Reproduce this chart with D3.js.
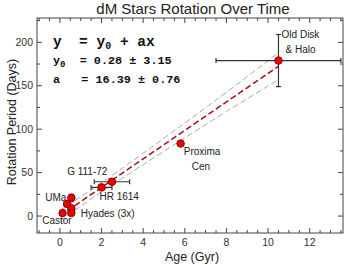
<!DOCTYPE html>
<html>
<head>
<meta charset="utf-8">
<script src="https://cdn.jsdelivr.net/npm/d3@7"></script>
<style>
  html, body { margin: 0; padding: 0; background: #fff; }
  svg { display: block; font-family: "Liberation Sans", Arial, sans-serif; }
</style>
</head>
<body>
<svg id="chart" width="349" height="265"></svg>
<script>
// dM stars: rotation period vs age, with linear fit and confidence band

const ages    = [10.5, 5.8, 2.5, 2.0, 0.55, 0.35, 0.55, 0.55, 0.13];
const periods = [179, 83.5, 39.5, 33, 21, 14, 9, 3.5, 3.5];
const ageErr  = [3, 0, 0.85, 0.5, 0, 0.15, 0, 0, 0];
const perErr  = [30, 0, 0, 0, 4, 0, 0, 0, 0];

const fitX = [0, 10.5];
const fitY = [0.28, 172.4];

// gray dashed band
const bandX     = [0, 2, 4, 6, 8, 10.5];
const bandUpper = [6.3, 38, 72.3, 107, 142.4, 188];
const bandLower = [-5.7, 28, 59.3, 90, 120.4, 157];

const labels = [
  { text: ['Old Disk', '& Halo'], x: 10.65, y: 205, dx: [0, 4] },
  { text: ['Proxima', 'Cen'], x: 5.95, y: 70, dx: [0, 8] },
  { text: ['G 111-72'], x: 0.35, y: 47, dx: [0] },
  { text: ['HR 1614'], x: 1.9, y: 18.5, dx: [0] },
  { text: ['UMa'], x: -0.7, y: 17, dx: [0] },
  { text: ['Hyades (3x)'], x: 1.0, y: -1, dx: [0] },
  { text: ['Castor'], x: -0.85, y: -9, dx: [0] }
];

const xTicks = [0, 2, 4, 6, 8, 10, 12];
const yTicks = [0, 50, 100, 150, 200];

const svg = d3.select('#chart');
const L = 37, R = 343, T = 18, B = 233;

const x = d3.scaleLinear().domain([-1.1, 13.6]).range([L, R]);
const y = d3.scaleLinear().domain([-19.5, 228]).range([B, T]);

const axisColor = '#444';

// title
svg.append('text')
  .attr('x', 193).attr('y', 14)
  .attr('text-anchor', 'middle')
  .attr('font-size', 15)
  .attr('fill', '#222')
  .text('dM Stars Rotation Over Time');

// frame
svg.append('rect')
  .attr('x', L).attr('y', T).attr('width', R - L).attr('height', B - T)
  .attr('fill', 'none').attr('stroke', axisColor).attr('stroke-width', 1);

// ticks (inward, on all four sides)
const xMinor = d3.range(-1, 13.6, 0.5).filter(v => !xTicks.includes(v));
const yMinor = d3.range(-25, 228, 25).filter(v => !yTicks.includes(v) && v > -19.5);

const tg = svg.append('g').attr('stroke', axisColor).attr('stroke-width', 1);
function xTick(v, len) {
  tg.append('line').attr('x1', x(v)).attr('x2', x(v)).attr('y1', B).attr('y2', B - len);
  tg.append('line').attr('x1', x(v)).attr('x2', x(v)).attr('y1', T).attr('y2', T + len);
}
function yTick(v, len) {
  tg.append('line').attr('y1', y(v)).attr('y2', y(v)).attr('x1', L).attr('x2', L + len);
  tg.append('line').attr('y1', y(v)).attr('y2', y(v)).attr('x1', R).attr('x2', R - len);
}
xTicks.forEach(v => xTick(v, 5));
xMinor.forEach(v => xTick(v, 3));
yTicks.forEach(v => yTick(v, 5));
yMinor.forEach(v => yTick(v, 3));

svg.append('g').selectAll('text')
  .data(xTicks).enter().append('text')
  .attr('x', d => x(d)).attr('y', B + 13)
  .attr('text-anchor', 'middle')
  .attr('font-size', 10.5).attr('fill', '#333')
  .text(d => d);

svg.append('g').selectAll('text')
  .data(yTicks).enter().append('text')
  .attr('x', L - 4).attr('y', d => y(d) + 3.5)
  .attr('text-anchor', 'end')
  .attr('font-size', 10.5).attr('fill', '#333')
  .text(d => d);

// axis titles
svg.append('text')
  .attr('x', 192).attr('y', 261)
  .attr('text-anchor', 'middle')
  .attr('font-size', 12.5).attr('fill', '#222')
  .text('Age (Gyr)');

svg.append('text')
  .attr('transform', 'translate(16,122) rotate(-90)')
  .attr('text-anchor', 'middle')
  .attr('font-size', 12.5).attr('fill', '#222')
  .text('Rotation Period (Days)');

// confidence band
const line = d3.line().x(d => x(d[0])).y(d => y(d[1]));
[bandUpper, bandLower].forEach(arr => {
  svg.append('path')
    .attr('d', line(bandX.map((v, i) => [v, arr[i]])))
    .attr('fill', 'none').attr('stroke', '#aaa').attr('stroke-width', 1)
    .attr('stroke-dasharray', '6,3');
});

// fit line
svg.append('path')
  .attr('d', line(fitX.map((v, i) => [v, fitY[i]])))
  .attr('fill', 'none').attr('stroke', '#a01010').attr('stroke-width', 1.5)
  .attr('stroke-dasharray', '6,3');

// error bars
const eg = svg.append('g').attr('stroke', '#333').attr('stroke-width', 1.2);
ages.forEach((a, i) => {
  if (ageErr[i]) {
    eg.append('line').attr('x1', x(a - ageErr[i])).attr('x2', x(a + ageErr[i]))
      .attr('y1', y(periods[i])).attr('y2', y(periods[i]));
    [a - ageErr[i], a + ageErr[i]].forEach(e => {
      eg.append('line').attr('x1', x(e)).attr('x2', x(e))
        .attr('y1', y(periods[i]) - 2.5).attr('y2', y(periods[i]) + 2.5);
    });
  }
  if (perErr[i]) {
    eg.append('line').attr('x1', x(a)).attr('x2', x(a))
      .attr('y1', y(periods[i] - perErr[i])).attr('y2', y(periods[i] + perErr[i]));
    [periods[i] - perErr[i], periods[i] + perErr[i]].forEach(e => {
      eg.append('line').attr('x1', x(a) - 2.5).attr('x2', x(a) + 2.5)
        .attr('y1', y(e)).attr('y2', y(e));
    });
  }
});

// points
svg.append('g').selectAll('circle')
  .data(ages).enter().append('circle')
  .attr('cx', d => x(d)).attr('cy', (d, i) => y(periods[i]))
  .attr('r', 3.8)
  .attr('fill', '#ee0000').attr('stroke', '#600').attr('stroke-width', 0.8);

// point labels
labels.forEach(lb => {
  const t = svg.append('text')
    .attr('x', x(lb.x)).attr('y', y(lb.y))
    .attr('font-size', 10).attr('fill', '#222');
  lb.text.forEach((s, k) => {
    t.append('tspan').attr('x', x(lb.x) + lb.dx[k]).attr('dy', k ? 15 : 0).text(s);
  });
});

// fit equation
const eq = svg.append('g').attr('font-family', '"Liberation Mono", "Courier New", monospace')
  .attr('font-weight', 'bold').attr('fill', '#111');
const l1 = eq.append('text').attr('x', 53).attr('y', 46).attr('font-size', 14.5)
  .attr('xml:space', 'preserve');
l1.append('tspan').text('y  = y');
l1.append('tspan').attr('font-size', 10).attr('dy', 3).text('0');
l1.append('tspan').attr('dy', -3).text(' + ax');

const l2 = eq.append('text').attr('x', 53).attr('y', 64).attr('font-size', 11.8)
  .attr('xml:space', 'preserve');
l2.append('tspan').text('y');
l2.append('tspan').attr('font-size', 9).attr('dy', 3).text('0');
l2.append('tspan').attr('dy', -3).text('  = 0.28 \u00b1 3.15');

eq.append('text').attr('x', 53).attr('y', 83).attr('font-size', 11.8)
  .attr('xml:space', 'preserve')
  .text('a   = 16.39 \u00b1 0.76');
</script>
</body>
</html>
